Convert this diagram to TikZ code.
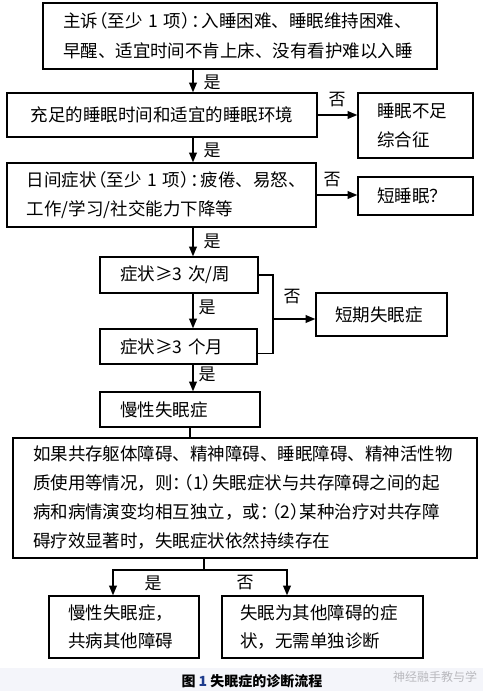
\documentclass[tikz,border=0pt]{standalone}
\usepackage{fontspec}
\setmainfont{Noto Sans CJK SC}
\usetikzlibrary{arrows}
\usetikzlibrary{positioning}
\definecolor{capblue}{RGB}{30,60,140}
\definecolor{stripgray}{RGB}{244,245,250}
\definecolor{markgray}{RGB}{185,185,190}
% narrow full-width punctuation
\newcommand{\lpar}{\makebox[.55em][r]{（}}
\newcommand{\rpar}{\makebox[.55em][l]{）}}
\newcommand{\fcolon}{\makebox[.6em][l]{：}}
\tikzset{block/.style={rectangle, draw=black, line width=1.6pt, inner xsep=20pt,
inner ysep=0pt, align=left, font=\fontsize{17.5}{29.5}\selectfont},
line/.style={draw=black, line width=1.2pt},
arr/.style={line, ->},
lab/.style={inner sep=0pt, font=\fontsize{17}{17}\selectfont},
>={triangle 45}}

\begin{document}
\begin{tikzpicture}[x=1pt,y=-1pt]
  \useasboundingbox (0,0) rectangle (492,699);
  \fill [stripgray] (0,668) rectangle (483,691);

  \node (chief) [block, text width=354pt, minimum height=66pt] at (240,36)
    {主诉\lpar 至少~1~项\rpar\fcolon 入睡困难、睡眠维持困难、\\早醒、适宜时间不肯上床、没有看护难以入睡};
  \node (sleep) [block, align=center, text width=270pt, minimum height=44pt] at (162,115)
    {充足的睡眠时间和适宜的睡眠环境};
  \node (insuff) [block, inner xsep=19pt, text width=77pt, minimum height=65pt] at (415.5,125.5)
    {睡眠不足\\综合征};
  \node (day) [block, text width=269pt, minimum height=64pt] at (161.5,195)
    {日间症状\lpar 至少~1~项\rpar\fcolon 疲倦、易怒、\\工作/学习/社交能力下降等};
  \node (short) [block, inner xsep=19pt, text width=77pt, minimum height=38pt] at (415.5,196)
    {短睡眠？};
  \node (freq) [block, text width=118pt, minimum height=36pt] at (179,275) {症状≥3~次/周};
  \node (dur) [block, text width=117pt, minimum height=35pt] at (178.5,346.5) {症状≥3~个月};
  \node (acute) [block, inner xsep=19pt, text width=93pt, minimum height=43pt] at (381.5,314.5)
    {短期失眠症};
  \node (chronic) [block, text width=120pt, minimum height=35pt] at (180,409.5) {慢性失眠症};
  \node (comorb) [block, text width=424pt, minimum height=120pt,
    font=\fontsize{17.5}{29}\selectfont] at (245,498)
    {如果共存躯体障碍、精神障碍、睡眠障碍、精神活性物\\
     质使用等情况，则\fcolon\lpar 1\rpar 失眠症状与共存障碍之间的起\\
     病和病情演变均相互独立，或\fcolon\lpar 2\rpar 某种治疗对共存障\\
     碍疗效显著时，失眠症状依然持续存在};
  \node (yes) [block, inner xsep=19pt, text width=112pt, minimum height=62pt,
    font=\fontsize{17.5}{28}\selectfont] at (124,627) {慢性失眠症，\\共病其他障碍};
  \node (no) [block, inner xsep=18pt, text width=165pt, minimum height=62pt,
    font=\fontsize{17.5}{28}\selectfont] at (322.5,627) {失眠为其他障碍的症\\状，无需单独诊断};

  % connectors
  \coordinate (spine) at (193,0);
  \coordinate (link) at (190,0);
  \coordinate (fork) at (273,319);
  \coordinate (split) at (204,570);
  \coordinate (left) at (113,0);
  \coordinate (right) at (287,0);
  \draw [arr] (chief.south -| spine) -- (sleep.north -| spine);
  \draw [arr] (sleep.east) -- (sleep.east -| insuff.west);
  \draw [arr] (sleep.south -| spine) -- (day.north -| spine);
  \draw [arr] (day.east) -- (day.east -| short.west);
  \draw [arr] (day.south -| spine) -- (freq.north -| spine);
  \draw [arr] (freq.south -| spine) -- (dur.north -| spine);
  \draw [line] (freq.east) -| (fork) |- ([yshift=-7pt]dur.east);
  \draw [arr] (fork) -- (fork -| acute.west);
  \draw [arr] (dur.south -| spine) -- (chronic.north -| spine);
  \draw [line] (chronic.south -| link) -- (comorb.north -| link);
  \draw [line] (comorb.south -| split) -- (split);
  \draw [arr] (split) -| (yes.north -| left);
  \draw [arr] (split) -| (no.north -| right);

  \node (yes1) [lab] at (212,82) {是};
  \node (no1) [lab] at (337,100) {否};
  \node (yes2) [lab] at (212,150) {是};
  \node (no2) [lab] at (332,180) {否};
  \node (yes3) [lab] at (212,241) {是};
  \node (yes4) [lab] at (207,307) {是};
  \node (no3) [lab] at (292,297) {否};
  \node (yes5) [lab] at (207,374) {是};
  \node (yes6) [lab] at (153,583) {是};
  \node (no4) [lab] at (245,583) {否};

  \node (caption) [font=\bfseries\fontsize{14}{14}\selectfont] at (252,681)
    {图 {\color{capblue}1} 失眠症的诊断流程};
  \node (mark) [anchor=west, inner sep=0pt, text=markgray,
    font=\fontsize{12}{12}\selectfont] at (393,677) {神经融手教与学};
\end{tikzpicture}
\end{document}
